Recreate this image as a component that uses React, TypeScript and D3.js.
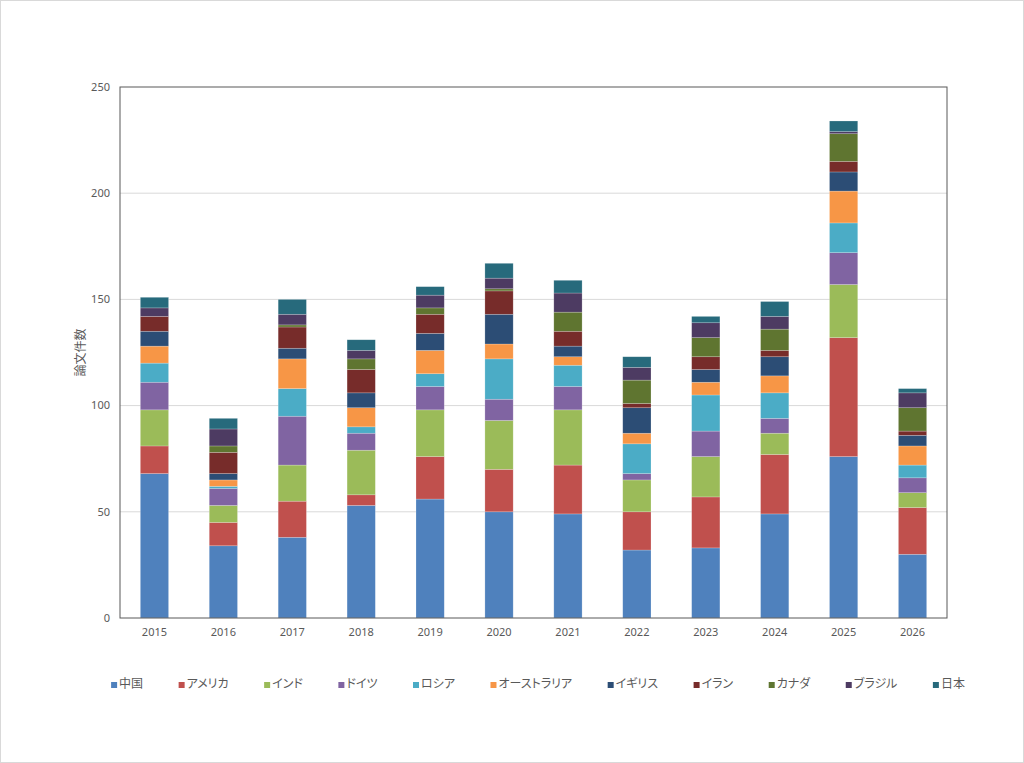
import React, { useEffect, useRef } from 'react';
import * as d3 from 'd3';

// 年 (x軸カテゴリ)
const years = ['2015', '2016', '2017', '2018', '2019', '2020', '2021', '2022', '2023', '2024', '2025', '2026'];

// 国ごとの論文件数
const countries = ['中国', 'アメリカ', 'インド', 'ドイツ', 'ロシア', 'オーストラリア', 'イギリス', 'イラン', 'カナダ', 'ブラジル', '日本'];

const china = [68, 34, 38, 53, 56, 50, 49, 32, 33, 49, 76, 30];
const usa = [13, 11, 17, 5, 20, 20, 23, 18, 24, 28, 56, 22];
const india = [17, 8, 17, 21, 22, 23, 26, 15, 19, 10, 25, 7];
const germany = [13, 8, 23, 8, 11, 10, 11, 3, 12, 7, 15, 7];
const russia = [9, 1, 13, 3, 6, 19, 10, 14, 17, 12, 14, 6];
const australia = [8, 3, 14, 9, 11, 7, 4, 5, 6, 8, 15, 9];
const uk = [7, 3, 5, 7, 8, 14, 5, 12, 6, 9, 9, 5];
const iran = [7, 10, 10, 11, 9, 11, 7, 2, 6, 3, 5, 2];
const canada = [0, 3, 1, 5, 3, 1, 9, 11, 9, 10, 13, 11];
const brazil = [4, 8, 5, 4, 6, 5, 9, 6, 7, 6, 1, 7];
const japan = [5, 5, 7, 5, 4, 7, 6, 5, 3, 7, 5, 2];

const seriesValues = [china, usa, india, germany, russia, australia, uk, iran, canada, brazil, japan];

const colors = ['#4F81BD', '#C0504D', '#9BBB59', '#8064A2', '#4BACC6', '#F79646', '#2C4D75', '#772C2A', '#5F7530', '#4D3B62', '#276A7C'];

const yTicks = [0, 50, 100, 150, 200, 250];

const latin = '"Noto Sans", "Open Sans", sans-serif';
const jp = '"Noto Sans CJK JP", "Noto Sans", sans-serif';

const App: React.FC = () => {
  const svgRef = useRef<SVGSVGElement | null>(null);

  useEffect(() => {
    if (!svgRef.current) return;

    const width = 1024;
    const height = 763;
    const marginTop = 87;
    const marginRight = 77;
    const marginBottom = 145;
    const marginLeft = 120;

    const svg = d3.select(svgRef.current);
    svg.selectAll('*').remove();

    // chart frame
    svg.append('rect')
      .attr('x', 0.5).attr('y', 0.5)
      .attr('width', width - 1).attr('height', height - 1)
      .attr('fill', '#fff')
      .attr('stroke', '#d9d9d9');

    const table = years.map((year, i) => {
      const row: Record<string, any> = { year };
      countries.forEach((c, k) => { row[c] = seriesValues[k][i]; });
      return row;
    });

    const stacked = d3.stack<Record<string, any>>().keys(countries)(table);

    const x = d3.scaleBand()
      .domain(years)
      .range([marginLeft, width - marginRight])
      .paddingInner(0.59)
      .paddingOuter(0.295);

    const y = d3.scaleLinear()
      .domain([0, 250])
      .range([height - marginBottom, marginTop]);

    // gridlines
    svg.append('g')
      .selectAll('line')
      .data(yTicks.slice(1, -1))
      .join('line')
      .attr('x1', marginLeft).attr('x2', width - marginRight)
      .attr('y1', d => y(d)).attr('y2', d => y(d))
      .attr('stroke', '#d9d9d9')
      .attr('stroke-width', 1);

    // bars
    svg.append('g')
      .selectAll('g')
      .data(stacked)
      .join('g')
      .attr('fill', (_, i) => colors[i])
      .selectAll('rect')
      .data(d => d)
      .join('rect')
      .attr('x', d => x(d.data.year) as number)
      .attr('y', d => y(d[1]))
      .attr('width', x.bandwidth())
      .attr('height', d => y(d[0]) - y(d[1]))
      .attr('stroke', '#ffffff')
      .attr('stroke-opacity', 0.35)
      .attr('stroke-width', 0.6);

    // plot border
    svg.append('rect')
      .attr('x', marginLeft).attr('y', marginTop)
      .attr('width', width - marginLeft - marginRight)
      .attr('height', height - marginTop - marginBottom)
      .attr('fill', 'none')
      .attr('stroke', '#595959')
      .attr('stroke-width', 1);

    // y tick labels
    svg.append('g')
      .selectAll('text')
      .data(yTicks)
      .join('text')
      .attr('x', marginLeft - 10)
      .attr('y', d => y(d))
      .attr('dy', '0.35em')
      .attr('text-anchor', 'end')
      .attr('font-family', latin)
      .attr('font-size', 11)
      .attr('fill', '#595959')
      .text(d => d);

    // x tick labels
    svg.append('g')
      .selectAll('text')
      .data(years)
      .join('text')
      .attr('x', d => (x(d) as number) + x.bandwidth() / 2)
      .attr('y', height - marginBottom + 18)
      .attr('text-anchor', 'middle')
      .attr('font-family', latin)
      .attr('font-size', 11)
      .attr('fill', '#595959')
      .text(d => d);

    // y axis title
    svg.append('text')
      .attr('transform', `translate(85,${(marginTop + height - marginBottom) / 2}) rotate(-90)`)
      .attr('text-anchor', 'middle')
      .attr('font-family', jp)
      .attr('font-size', 12)
      .attr('fill', '#595959')
      .text('論文件数');

    // legend
    const legend = svg.append('g');
    const items = legend.selectAll('g')
      .data(countries)
      .join('g');

    items.append('rect')
      .attr('width', 6).attr('height', 6)
      .attr('y', -6)
      .attr('fill', (_, i) => colors[i]);

    const labels = items.append('text')
      .attr('x', 8)
      .attr('font-family', jp)
      .attr('font-size', 12)
      .attr('fill', '#595959')
      .style('font-feature-settings', '"palt"')
      .text(d => d);

    const widths: number[] = [];
    labels.each(function () {
      widths.push((this as SVGTextElement).getComputedTextLength());
    });
    const spacing = 35.5;
    const itemWidths = widths.map(w => 8 + w);
    const total = d3.sum(itemWidths) + spacing * (itemWidths.length - 1);
    let cursor = 538 - total / 2;
    items.attr('transform', (_, i) => {
      const t = `translate(${cursor},688)`;
      cursor += itemWidths[i] + spacing;
      return t;
    });
  }, []);

  return (
    <svg
      ref={svgRef}
      width={1024}
      height={763}
      style={{ position: 'absolute', left: 0, top: 0 }}
    />
  );
};

export default App;
